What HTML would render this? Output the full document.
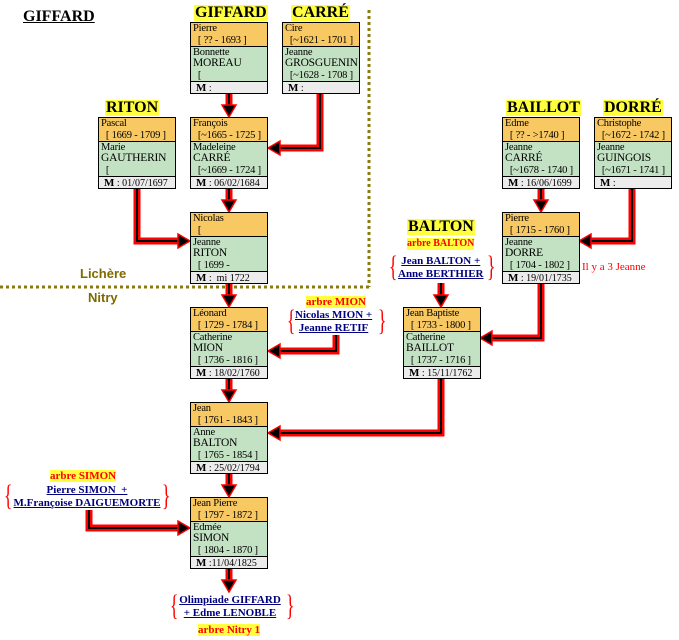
<!DOCTYPE html>
<html><head><meta charset="utf-8"><style>
body{margin:0;width:679px;height:640px;background:#fff;position:relative;overflow:hidden;font-family:"Liberation Serif",serif;}
.b{position:absolute;width:76px;height:70px;border:1px solid #000;font-size:10.5px;line-height:11px;color:#000;background:#c3e1c3;overflow:hidden}
.o{position:absolute;left:0;top:0;width:76px;height:23px;background:#f8c862;border-bottom:1px solid #000}
.g{position:absolute;left:0;top:24px;width:76px;height:34px}
.m{position:absolute;left:0;top:58px;width:76px;height:12px;background:#ececec;border-top:1px solid #000;font-size:10px;line-height:12px}
.o div,.g div{padding-left:2px;white-space:nowrap;letter-spacing:-0.2px}
.o div{height:11.5px}
.g div{height:11.3px}
.big{font-size:11.5px}
.m b{font-size:11px;margin-left:5px}
.lab{position:absolute;background:#ffff40;font-weight:bold;font-size:16px;line-height:16px;padding:0 1px}
.lnk{position:absolute;color:#000080;font-weight:bold;font-size:11px;line-height:13px;text-align:center;text-decoration:underline;white-space:nowrap}
.ar{position:absolute;background:#ffff40;color:#f00;font-weight:bold;font-size:11px;line-height:12px;white-space:nowrap}
.br{position:absolute;color:#f00;font-size:30px;line-height:26px;transform:scaleX(0.6)}
svg{position:absolute;left:0;top:0}
</style></head><body>
<svg width="679" height="640">
<g fill="none" stroke="#8b7a10" stroke-width="3" stroke-dasharray="3,3">
<line x1="369" y1="10" x2="369" y2="287"/><line x1="0" y1="287" x2="369" y2="287"/>
</g>
<g fill="none" stroke-linejoin="miter">
<g stroke="#f00" stroke-width="7">
<polyline points="229,93 229,108"/><polyline points="320,93 320,148 280,148"/>
<polyline points="137,188 137,241 178,241"/><polyline points="229,188 229,203"/>
<polyline points="541,188 541,203"/><polyline points="632,188 632,241 591,241"/>
<polyline points="229,283 229,298"/><polyline points="336,335 336,351 280,351"/>
<polyline points="541,283 541,338 492,338"/><polyline points="441,283 441,298"/>
<polyline points="229,378 229,393"/><polyline points="441,378 441,433 280,433"/>
<polyline points="229,473 229,488"/><polyline points="89,510 89,528 178,528"/>
<polyline points="229,568 229,583"/>
</g>
<g stroke="#000" stroke-width="2">
<polyline points="229,93 229,108"/><polyline points="320,93 320,148 280,148"/>
<polyline points="137,188 137,241 178,241"/><polyline points="229,188 229,203"/>
<polyline points="541,188 541,203"/><polyline points="632,188 632,241 591,241"/>
<polyline points="229,283 229,298"/><polyline points="336,335 336,351 280,351"/>
<polyline points="541,283 541,338 492,338"/><polyline points="441,283 441,298"/>
<polyline points="229,378 229,393"/><polyline points="441,378 441,433 280,433"/>
<polyline points="229,473 229,488"/><polyline points="89,510 89,528 178,528"/>
<polyline points="229,568 229,583"/>
</g>
</g>
<g fill="#000" stroke="#f00" stroke-width="1.5">
<polygon points="222,105 236,105 229,117"/><polygon points="222,200 236,200 229,212"/>
<polygon points="534,200 548,200 541,212"/><polygon points="222,295 236,295 229,307"/>
<polygon points="434,295 448,295 441,307"/><polygon points="222,390 236,390 229,402"/>
<polygon points="222,485 236,485 229,497"/><polygon points="222,580 236,580 229,592"/>
<polygon points="280,141 280,155 268,148"/><polygon points="178,234 178,248 190,241"/>
<polygon points="591,234 591,248 579,241"/><polygon points="280,344 280,358 268,351"/>
<polygon points="492,331 492,345 480,338"/><polygon points="280,426 280,440 268,433"/>
<polygon points="178,521 178,535 190,528"/>
</g>
</svg>

<div style="position:absolute;left:23px;top:8px;font-weight:bold;font-size:16px;text-decoration:underline">GIFFARD</div>
<div style="position:absolute;left:80px;top:266px;font:bold 13px 'Liberation Sans',sans-serif;color:#7f6a00">Lichère</div>
<div style="position:absolute;left:88px;top:290px;font:bold 13px 'Liberation Sans',sans-serif;color:#7f6a00">Nitry</div>

<div class="lab" style="left:194px;top:5px">GIFFARD</div>
<div class="lab" style="left:291px;top:5px">CARRÉ</div>
<div class="lab" style="left:105px;top:100px">RITON</div>
<div class="lab" style="left:506px;top:100px">BAILLOT</div>
<div class="lab" style="left:603px;top:100px">DORRÉ</div>
<div class="lab" style="left:407px;top:219px">BALTON</div>

<div class="b" style="left:190px;top:22px"><div class="o"><div>Pierre</div><div>&nbsp;&nbsp;[ ?? - 1693 ]</div></div><div class="g"><div>Bonnette</div><div class="big">MOREAU</div><div>&nbsp;&nbsp;[</div></div><div class="m"><b>M</b> :</div></div>
<div class="b" style="left:282px;top:22px"><div class="o"><div>Cire</div><div>&nbsp;&nbsp;[~1621 - 1701 ]</div></div><div class="g"><div>Jeanne</div><div class="big">GROSGUENIN</div><div>&nbsp;&nbsp;[~1628 - 1708 ]</div></div><div class="m"><b>M</b> :</div></div>
<div class="b" style="left:98px;top:117px"><div class="o"><div>Pascal</div><div>&nbsp;&nbsp;[ 1669 - 1709 ]</div></div><div class="g"><div>Marie</div><div class="big">GAUTHERIN</div><div>&nbsp;&nbsp;[</div></div><div class="m"><b>M</b> : 01/07/1697</div></div>
<div class="b" style="left:190px;top:117px"><div class="o"><div>François</div><div>&nbsp;&nbsp;[~1665 - 1725 ]</div></div><div class="g"><div>Madeleine</div><div class="big">CARRÉ</div><div>&nbsp;&nbsp;[~1669 - 1724 ]</div></div><div class="m"><b>M</b> : 06/02/1684</div></div>
<div class="b" style="left:502px;top:117px"><div class="o"><div>Edme</div><div>&nbsp;&nbsp;[ ?? - &gt;1740 ]</div></div><div class="g"><div>Jeanne</div><div class="big">CARRÉ</div><div>&nbsp;&nbsp;[~1678 - 1740 ]</div></div><div class="m"><b>M</b> : 16/06/1699</div></div>
<div class="b" style="left:594px;top:117px"><div class="o"><div>Christophe</div><div>&nbsp;&nbsp;[~1672 - 1742 ]</div></div><div class="g"><div>Jeanne</div><div class="big">GUINGOIS</div><div>&nbsp;&nbsp;[~1671 - 1741 ]</div></div><div class="m"><b>M</b> :</div></div>
<div class="b" style="left:190px;top:212px"><div class="o"><div>Nicolas</div><div>&nbsp;&nbsp;[</div></div><div class="g"><div>Jeanne</div><div class="big">RITON</div><div>&nbsp;&nbsp;[ 1699 -</div></div><div class="m"><b>M</b> :&nbsp; mi 1722</div></div>
<div class="b" style="left:502px;top:212px"><div class="o"><div>Pierre</div><div>&nbsp;&nbsp;[ 1715 - 1760 ]</div></div><div class="g"><div>Jeanne</div><div class="big">DORRE</div><div>&nbsp;&nbsp;[ 1704 - 1802 ]</div></div><div class="m"><b>M</b> : 19/01/1735</div></div>
<div class="b" style="left:190px;top:307px"><div class="o"><div>Léonard</div><div>&nbsp;&nbsp;[ 1729 - 1784 ]</div></div><div class="g"><div>Catherine</div><div class="big">MION</div><div>&nbsp;&nbsp;[ 1736 - 1816 ]</div></div><div class="m"><b>M</b> : 18/02/1760</div></div>
<div class="b" style="left:403px;top:307px"><div class="o"><div>Jean Baptiste</div><div>&nbsp;&nbsp;[ 1733 - 1800 ]</div></div><div class="g"><div>Catherine</div><div class="big">BAILLOT</div><div>&nbsp;&nbsp;[ 1737 - 1716 ]</div></div><div class="m"><b>M</b> : 15/11/1762</div></div>
<div class="b" style="left:190px;top:402px"><div class="o"><div>Jean</div><div>&nbsp;&nbsp;[ 1761 - 1843 ]</div></div><div class="g"><div>Anne</div><div class="big">BALTON</div><div>&nbsp;&nbsp;[ 1765 - 1854 ]</div></div><div class="m"><b>M</b> : 25/02/1794</div></div>
<div class="b" style="left:190px;top:497px"><div class="o"><div>Jean Pierre</div><div>&nbsp;&nbsp;[ 1797 - 1872 ]</div></div><div class="g"><div>Edmée</div><div class="big">SIMON</div><div>&nbsp;&nbsp;[ 1804 - 1870 ]</div></div><div class="m"><b>M</b> :11/04/1825</div></div>

<div style="position:absolute;left:582px;top:261px;color:#f00;font-size:11px">Il y a 3 Jeanne</div>

<div class="ar" style="left:407px;top:238px;font-size:10px">arbre BALTON</div>
<div class="br" style="left:386px;top:254px">{</div><div class="br" style="left:484px;top:254px">}</div>
<div class="lnk" style="left:398px;top:255px">Jean BALTON +<br>Anne BERTHIER</div>

<div class="ar" style="left:306px;top:296px">arbre MION</div>
<div class="br" style="left:284px;top:308px">{</div><div class="br" style="left:375px;top:308px">}</div>
<div class="lnk" style="left:295px;top:309px">Nicolas MION +<br>Jeanne RETIF</div>

<div class="ar" style="left:50px;top:470px">arbre SIMON</div>
<div class="br" style="left:1px;top:483px">{</div><div class="br" style="left:159px;top:483px">}</div>
<div class="lnk" style="left:12px;top:484px;width:150px">Pierre SIMON&nbsp; +<br>M.Françoise DAIGUEMORTE</div>

<div class="br" style="left:167px;top:593px">{</div><div class="br" style="left:283px;top:593px">}</div>
<div class="lnk" style="left:176px;top:594px;width:108px">Olimpiade GIFFARD<br>+ Edme LENOBLE</div>
<div class="ar" style="left:198px;top:624px">arbre Nitry 1</div>
</body></html>
